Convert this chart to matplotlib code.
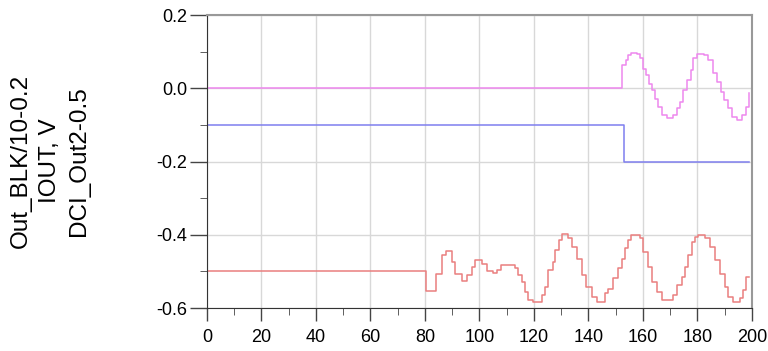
import numpy as np
import matplotlib.pyplot as plt
from matplotlib.ticker import MultipleLocator

plt.rcParams['font.family'] = ['Liberation Sans', 'DejaVu Sans']

# Out_BLK/10-0.2 (pink): flat at 0, then stepped sine after ~152
pink_t = [0, 152.5, 153.8, 154.6, 155.8, 157.9, 159.1, 160.1, 161.3, 162.3, 163.5,
          164.4, 165.6, 166.9, 168.7, 170.9, 172.4, 173.6, 174.8, 176.3, 177.5,
          178.5, 179.7, 182.4, 184.0, 185.8, 187.3, 188.5, 189.7, 191.3, 192.6,
          194.4, 196.2, 198.0, 199.0]
pink_v = [0.0, 0.063, 0.077, 0.091, 0.097, 0.093, 0.082, 0.054, 0.036, 0.013, -0.005,
          -0.028, -0.051, -0.073, -0.082, -0.073, -0.055, -0.037, -0.005, 0.022, 0.049,
          0.082, 0.095, 0.091, 0.077, 0.041, 0.017, -0.010, -0.033, -0.055, -0.078,
          -0.087, -0.073, -0.051, -0.014]

# IOUT, V (blue): -0.1 then -0.2
blue_t = [0, 153.0, 199.0]
blue_v = [-0.1, -0.2, -0.2]

# DCI_Out2-0.5 (red)
red_t = [0, 80.4, 84.0, 86.1, 87.7, 89.8, 91.0, 93.5, 95.3, 97.1, 98.3, 100.8,
         102.6, 105.0, 106.3, 108.1, 113.0, 114.2, 115.5, 116.7, 117.9, 119.8,
         122.8, 124.0, 125.3, 126.9, 127.7, 129.3, 130.2, 132.6, 133.8, 135.7,
         137.5, 139.3, 141.2, 143.0, 146.0, 147.3, 149.1, 151.0, 152.2, 153.4,
         154.6, 155.8, 158.9, 160.1, 162.0, 163.2, 165.0, 166.9, 171.1, 172.4,
         174.2, 175.4, 176.6, 177.9, 179.1, 180.3, 182.8, 184.6, 186.4, 188.3,
         190.1, 191.3, 193.1, 195.6, 196.8, 198.0, 199.0]
red_v = [-0.5, -0.553, -0.506, -0.456, -0.445, -0.474, -0.506, -0.527, -0.510, -0.488, -0.470,
         -0.480, -0.499, -0.505, -0.497, -0.483, -0.490, -0.510, -0.529, -0.556, -0.579,
         -0.583, -0.565, -0.542, -0.497, -0.474, -0.442, -0.415, -0.398, -0.410, -0.433,
         -0.465, -0.510, -0.542, -0.570, -0.583, -0.560, -0.547, -0.519, -0.492, -0.465,
         -0.437, -0.415, -0.401, -0.410, -0.447, -0.488, -0.529, -0.556, -0.579, -0.565,
         -0.538, -0.515, -0.488, -0.456, -0.419, -0.406, -0.401, -0.410, -0.433, -0.470,
         -0.506, -0.542, -0.570, -0.583, -0.574, -0.551, -0.515, -0.515]

fig = plt.figure(figsize=(7.68, 3.51), dpi=100)
ax = fig.add_axes([0.2695, 0.1225, 0.7095, 0.8345])

ax.step(pink_t, pink_v, where='post', color='#ee88ee', lw=1.1)
ax.step(blue_t, blue_v, where='post', color='#7f7fef', lw=1.1)
ax.step(red_t, red_v, where='post', color='#ea7f7f', lw=1.1)

ax.set_xlim(0, 200)
ax.set_ylim(-0.6, 0.2)
ax.xaxis.set_major_locator(MultipleLocator(20))
ax.xaxis.set_minor_locator(MultipleLocator(10))
ax.yaxis.set_major_locator(MultipleLocator(0.2))
ax.yaxis.set_minor_locator(MultipleLocator(0.1))
ax.yaxis.set_major_formatter(plt.FuncFormatter(lambda v, p: f'{v:.1f}'.replace('-0.0', '0.0')))
ax.grid(True, which='major', color='#d8d8d8', lw=1)
ax.set_axisbelow(True)

ax.tick_params(axis='both', which='major', labelsize=13, color='#444444', width=1)
ax.tick_params(axis='x', which='major', length=9, pad=6)
ax.tick_params(axis='y', which='major', length=12, pad=2)
ax.tick_params(axis='both', which='minor', length=5, color='#444444')

for side in ['left', 'bottom']:
    ax.spines[side].set_color('#333333')
for side in ['top', 'right']:
    ax.spines[side].set_color('#999999')
    ax.spines[side].set_linewidth(1.5)

# three stacked y labels, drawn as one rotated block
fig.text(50 / 768, 1 - 161 / 351, 'Out_BLK/10-0.2\nIOUT, V\nDCI_Out2-0.5',
         rotation=90, ha='center', va='center', fontsize=17.5,
         linespacing=1.4, multialignment='center')

fig.savefig('out.png', dpi=100)
